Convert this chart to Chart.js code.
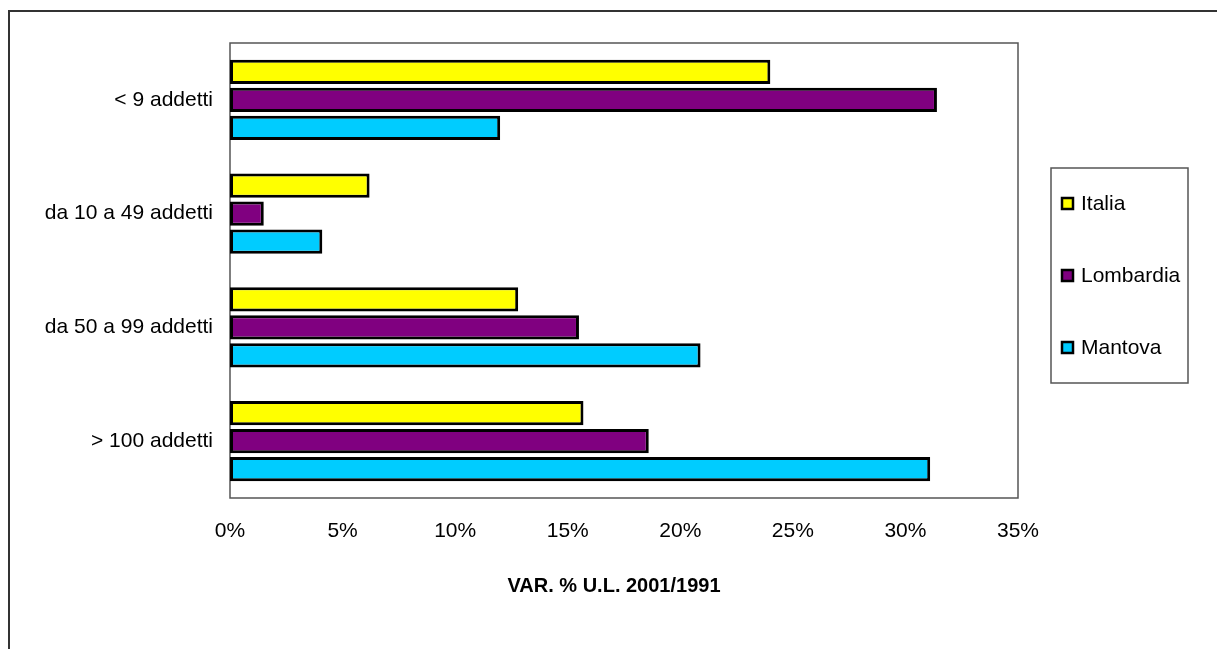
<!DOCTYPE html>
<html>
<head>
<meta charset="utf-8">
<script src="https://cdn.jsdelivr.net/npm/chart.js@4"></script>
<style>
  body { margin: 0; background: #fff; }
  #wrap { width: 1217px; height: 649px; }
</style>
</head>
<body>
<div id="wrap"><canvas id="myChart"></canvas></div>
<script>
const categories = ['< 9 addetti', 'da 10 a 49 addetti', 'da 50 a 99 addetti', '> 100 addetti'];
const seriesNames = ['Italia', 'Lombardia', 'Mantova'];
const italia = [24.0, 6.2, 12.8, 15.7];
const lombardia = [31.4, 1.5, 15.5, 18.6];
const mantova = [12.0, 4.1, 20.9, 31.1];
const xTicks = [0, 5, 10, 15, 20, 25, 30, 35];
const axisTitle = 'VAR. % U.L. 2001/1991';

const FONT = 'Arial, "Liberation Sans", sans-serif';
const colors = ['#FFFF00', '#800080', '#00CCFF'];

// frame, plot box, axis title and legend box (like the original spreadsheet chart)
const framePlugin = {
  id: 'frame',
  beforeDatasetsDraw(chart) {
    const c = chart.ctx, a = chart.chartArea;
    c.save();
    c.strokeStyle = '#333';
    c.lineWidth = 2;
    c.strokeRect(9, 11, 1400, 1000);
    c.strokeStyle = '#555';
    c.lineWidth = 1.5;
    c.strokeRect(a.left, a.top, a.right - a.left, a.bottom - a.top);
    c.restore();
  },
  afterDraw(chart) {
    const c = chart.ctx;
    c.save();
    // x axis title, sits a bit left of the plot centre in the original
    c.fillStyle = '#000';
    c.font = 'bold 20px ' + FONT;
    c.textAlign = 'center';
    c.textBaseline = 'middle';
    c.fillText(axisTitle, 614, 586);

    c.textAlign = 'left';
    c.strokeStyle = '#555';
    c.lineWidth = 1.5;
    c.strokeRect(1051, 168, 137, 215);
    chart.data.datasets.forEach((ds, i) => {
      const y = 204 + i * 72;
      c.fillStyle = ds.backgroundColor;
      c.fillRect(1062, y - 6, 11, 11);
      c.strokeStyle = '#000';
      c.lineWidth = 2.5;
      c.strokeRect(1062, y - 6, 11, 11);
      c.fillStyle = '#000';
      c.font = '21px ' + FONT;
      c.fillText(ds.label, 1081, y);
    });
    c.restore();
  }
};

const ctx = document.getElementById('myChart');
const myChart = new Chart(ctx, {
  type: 'bar',
  data: {
    labels: categories,
    datasets: [
      { label: seriesNames[0], data: italia, backgroundColor: colors[0] },
      { label: seriesNames[1], data: lombardia, backgroundColor: colors[1] },
      { label: seriesNames[2], data: mantova, backgroundColor: colors[2] }
    ].map(d => Object.assign(d, {
      borderColor: '#000',
      borderWidth: 3,
      borderSkipped: false,
      categoryPercentage: 0.74,
      barPercentage: 0.86
    }))
  },
  options: {
    indexAxis: 'y',
    responsive: true,
    maintainAspectRatio: false,
    animation: false,
    layout: { padding: { top: 43, right: 199, left: 0, bottom: 0 } },
    scales: {
      x: {
        min: 0,
        max: 35,
        afterBuildTicks(s) { s.ticks = xTicks.map(v => ({ value: v })); },
        afterFit(s) { s.height = 151; },
        grid: { display: false, drawTicks: false },
        border: { display: false },
        ticks: {
          padding: 21,
          color: '#000',
          font: { family: FONT, size: 21 },
          callback: v => v + '%'
        }
      },
      y: {
        afterFit(s) { s.width = 230; },
        grid: { display: false, drawTicks: false },
        border: { display: false },
        ticks: {
          padding: 17,
          color: '#000',
          font: { family: FONT, size: 21 }
        }
      }
    },
    plugins: {
      legend: { display: false },
      tooltip: { enabled: false }
    }
  },
  plugins: [framePlugin]
});
</script>
</body>
</html>
